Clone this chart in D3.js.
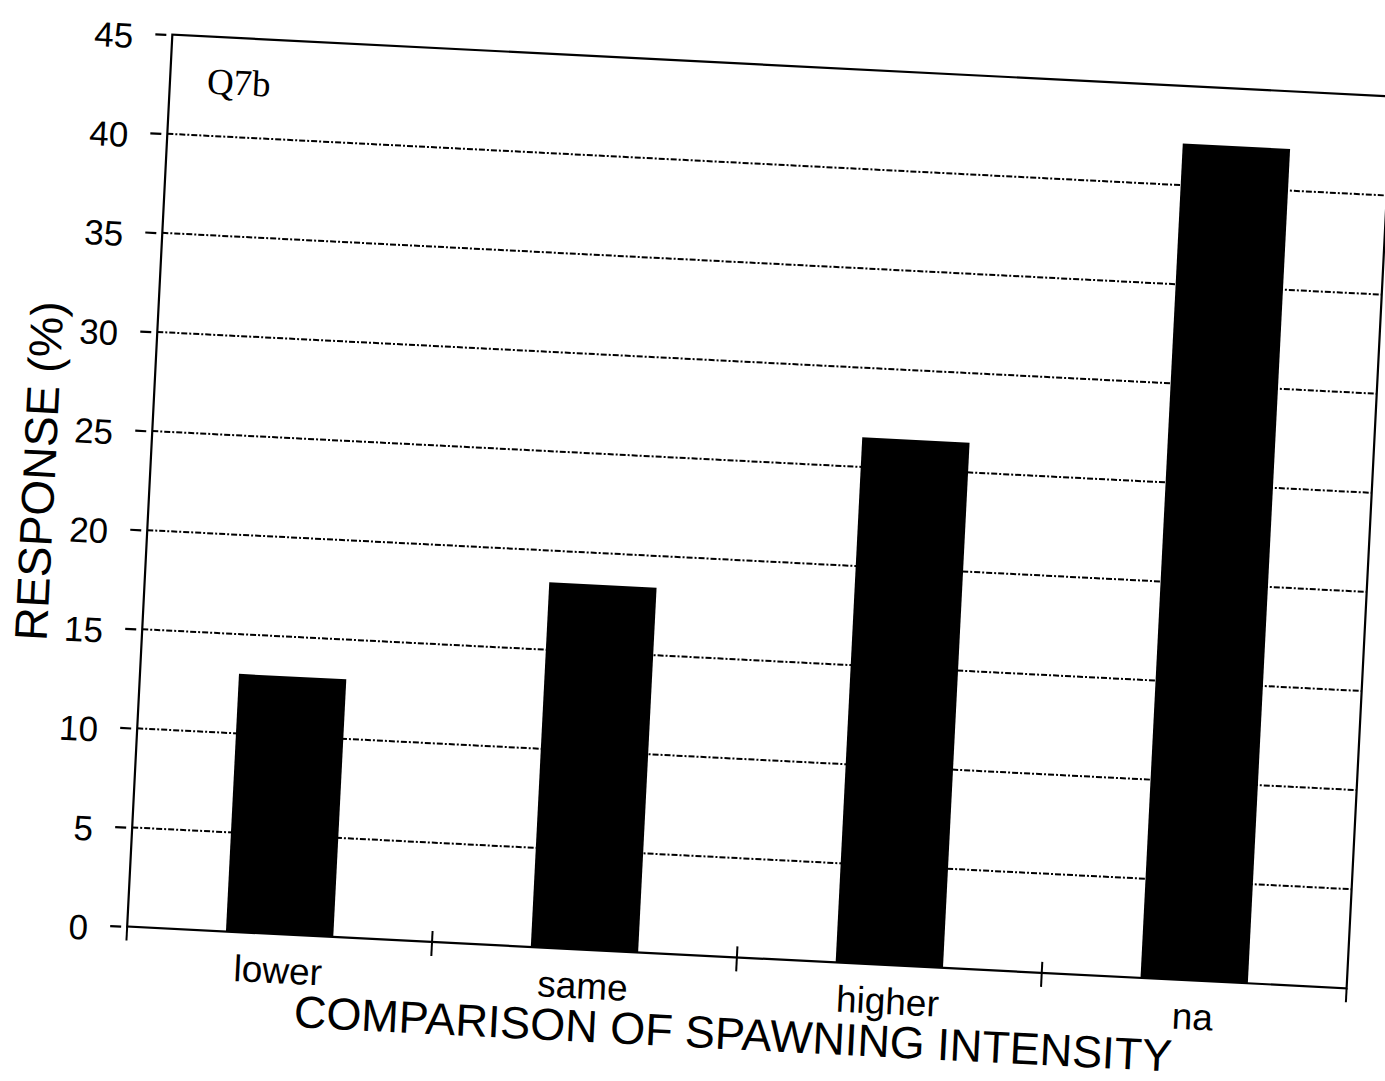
<!DOCTYPE html>
<html>
<head>
<meta charset="utf-8">
<script src="https://cdn.jsdelivr.net/npm/d3@7"></script>
<style>
  body { margin: 0; background: #fff; }
  svg { display: block; }
</style>
</head>
<body>
<div id="chart"></div>
<script>
// Data (percent of responses)
const categories = ["lower", "same", "higher", "na"];
const responses = [13.0, 18.4, 26.5, 42.1];
const yTicks = [0, 5, 10, 15, 20, 25, 30, 35, 40, 45];
const panelLabel = "Q7b";
const xTitle = "COMPARISON OF SPAWNING INTENSITY";
const yTitle = "RESPONSE (%)";

const chart = (() => {
  const width = 1385;
  const height = 1081;
  const margin = {top: 65, right: 15, bottom: 123, left: 149};
  const w = width - margin.left - margin.right;
  const h = height - margin.top - margin.bottom;
  const font = "'Liberation Sans', Arial, sans-serif";

  const x = d3.scaleBand()
    .domain(categories)
    .range([0, w])
    .paddingInner(0.648)
    .paddingOuter(0.324);

  const y = d3.scaleLinear()
    .domain([0, 45])
    .range([h, 0]);

  const svg = d3.select("#chart").append("svg")
    .attr("width", width)
    .attr("height", height)
    .attr("viewBox", [0, 0, width, height]);

  svg.append("rect").attr("width", width).attr("height", height).attr("fill", "#fff");

  // the page was scanned a little crooked, so the whole chart is tilted
  const page = svg.append("g")
    .attr("transform", "rotate(2.9, 760, 511)");

  const plot = page.append("g")
    .attr("transform", `translate(${margin.left},${margin.top})`);

  // dash-dot gridlines
  plot.append("g")
    .selectAll("line")
    .data(yTicks.filter(d => d > 0 && d < 45))
    .join("line")
    .attr("x1", 0)
    .attr("x2", w)
    .attr("y1", d => y(d))
    .attr("y2", d => y(d))
    .attr("stroke", "#000")
    .attr("stroke-width", 2)
    .attr("stroke-dasharray", "6,2,2,2");

  // bars
  plot.append("g")
    .selectAll("rect")
    .data(responses)
    .join("rect")
    .attr("x", (d, i) => x(categories[i]))
    .attr("y", d => y(d))
    .attr("width", x.bandwidth())
    .attr("height", d => h - y(d))
    .attr("fill", "#000");

  // frame round the plot
  plot.append("rect")
    .attr("width", w)
    .attr("height", h)
    .attr("fill", "none")
    .attr("stroke", "#000")
    .attr("stroke-width", 2.2);

  // y axis labels and outside ticks
  plot.append("g")
    .call(d3.axisLeft(y).tickValues(yTicks).tickSize(17).tickPadding(22))
    .call(g => g.select(".domain").remove())
    .call(g => g.selectAll(".tick line").attr("x1", -6).attr("stroke-width", 2.2))
    .call(g => g.selectAll(".tick text")
      .attr("font-family", font)
      .attr("font-size", 35)
      .attr("dy", "0.42em")
      .attr("fill", "#000"));

  // x axis: ticks between the categories, crossing the axis
  const step = x.step();
  plot.append("g")
    .selectAll("line")
    .data(d3.range(categories.length + 1))
    .join("line")
    .attr("x1", i => i * step)
    .attr("x2", i => i * step)
    .attr("y1", i => (i === 0 || i === categories.length) ? h : h - 11)
    .attr("y2", h + 14)
    .attr("stroke", "#000")
    .attr("stroke-width", 2);

  plot.append("g")
    .selectAll("text")
    .data(categories)
    .join("text")
    .attr("x", d => x(d) + x.bandwidth() / 2)
    .attr("y", h + 49)
    .attr("text-anchor", "middle")
    .attr("font-family", font)
    .attr("font-size", 37)
    .text(d => d);

  // axis titles
  plot.append("text")
    .attr("x", w / 2)
    .attr("y", h + 92)
    .attr("text-anchor", "middle")
    .attr("font-family", font)
    .attr("font-size", 45)
    .text(xTitle);

  plot.append("text")
    .attr("transform", `translate(${54 - margin.left},${h / 2 - 4}) rotate(-90)`)
    .attr("text-anchor", "middle")
    .attr("font-family", font)
    .attr("font-size", 46)
    .text(yTitle);

  // panel tag
  plot.append("text")
    .attr("x", 37)
    .attr("y", 57)
    .attr("font-family", "'Liberation Serif', 'Times New Roman', serif")
    .attr("font-size", 37)
    .text(panelLabel);

  return svg.node();
})();
</script>
</body>
</html>
